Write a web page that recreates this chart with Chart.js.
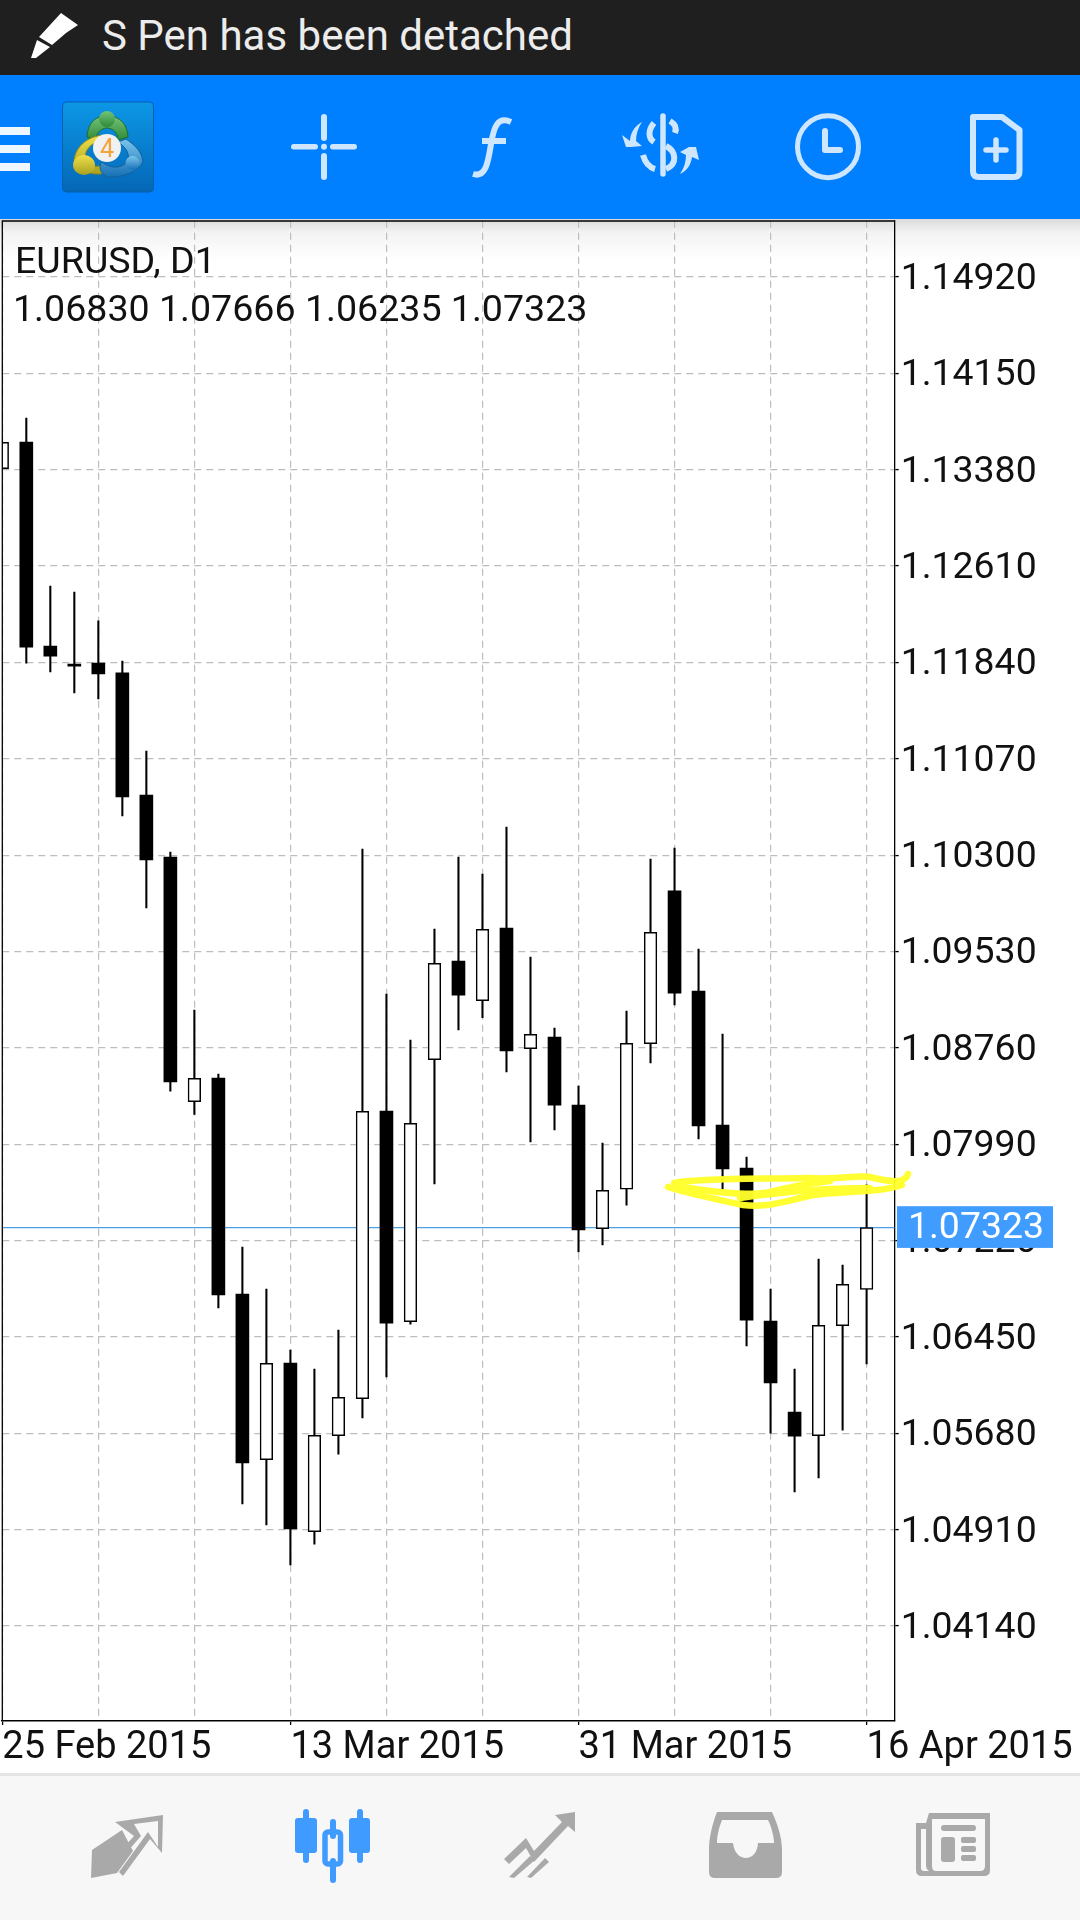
<!DOCTYPE html>
<html>
<head>
<meta charset="utf-8">
<script src="https://cdn.jsdelivr.net/npm/chart.js@4"></script>
<style>
html,body{margin:0;padding:0;background:#fff;width:1080px;height:1920px;overflow:hidden;font-family:Roboto,sans-serif}
#status{position:absolute;left:0;top:0;width:1080px;height:75px;background:#1f1f1f}
#status span{position:absolute;left:102px;top:13px;font-size:42px;line-height:46px;color:#ececec;white-space:nowrap}
#toolbar{position:absolute;left:0;top:75px;width:1080px;height:144px;background:#007fff}
#shade{position:absolute;left:0;top:219px;width:1080px;height:40px;background:linear-gradient(#dcdcdc,#f3f3f3 35%,#fff)}
#c{position:absolute;left:0;top:0;z-index:2}
.head{position:absolute;z-index:3;color:#111;white-space:nowrap;font-size:37.6px;line-height:44px}
#bottom{position:absolute;left:0;top:1773px;width:1080px;height:147px;background:#f7f7f7;border-top:3px solid #e4e4e4;box-sizing:border-box}
svg.ov{position:absolute;left:0;top:0;z-index:4;pointer-events:none}
</style>
</head>
<body>
<div id="status"><span>S Pen has been detached</span></div>
<div id="toolbar"></div>
<div id="shade"></div>
<div id="bottom"></div>
<canvas id="c" width="1080" height="1920" style="width:1080px;height:1920px"></canvas>
<div class="head" style="left:15px;top:238px">EURUSD, D1</div>
<div class="head" style="left:13px;top:286px">1.06830 1.07666 1.06235 1.07323</div>

<svg class="ov" width="1080" height="1920" viewBox="0 0 1080 1920">
  <defs>
    <linearGradient id="lg" x1="0" y1="0" x2="0" y2="1"><stop offset="0" stop-color="#0c97e6"/><stop offset="1" stop-color="#0467b6"/></linearGradient>
    <linearGradient id="gg" x1="0" y1="0" x2="0" y2="1"><stop offset="0" stop-color="#74c47a"/><stop offset="1" stop-color="#2f8a37"/></linearGradient>
    <linearGradient id="yg" x1="0" y1="0" x2="0" y2="1"><stop offset="0" stop-color="#efe04a"/><stop offset="1" stop-color="#a8a020"/></linearGradient>
    <linearGradient id="bg" x1="0" y1="0" x2="0" y2="1"><stop offset="0" stop-color="#7cc6ee"/><stop offset="1" stop-color="#1670b5"/></linearGradient>
  </defs>
  <!-- status pen -->
  <g fill="#fff">
    <path d="M31 58 L37 40 L50 47 L36 58 Z"/>
    <path d="M39 37 L61 13 L78 25 L66 33 L52 45 Z"/>
  </g>
  <!-- hamburger -->
  <g fill="#eef6ff">
    <rect x="0" y="127" width="30" height="8"/><rect x="0" y="145" width="30" height="8"/><rect x="0" y="163" width="30" height="8"/>
  </g>
  <!-- logo -->
  <rect x="62.5" y="102" width="91" height="90" rx="4" fill="url(#lg)" stroke="#0a5fa8" stroke-width="1"/>
  <path d="M87 137 C88 121 97 116 107 116 C117 116 127 121 128 137 L118 140 C118 132 112 128 107 128 C102 128 96 132 96 140 Z" fill="url(#gg)" stroke="#1e6e2a" stroke-width="1"/>
  <circle cx="107" cy="119" r="8" fill="url(#gg)"/>
  <path d="M104 135 C88 136 76 146 74 160 C80 170 92 178 108 172 L100 166 C88 168 84 160 86 152 C90 144 96 142 100 142 Z" fill="url(#yg)" stroke="#8c8616" stroke-width="1"/>
  <ellipse cx="84" cy="165" rx="11" ry="10" fill="url(#yg)"/>
  <path d="M126 139 C136 146 142 152 143 162 C138 172 122 178 108 177 C100 174 98 166 102 162 C112 170 124 168 128 160 C130 152 124 146 118 142 Z" fill="url(#bg)" stroke="#11619e" stroke-width="1"/>
  <circle cx="132.500" cy="163" r="7" fill="url(#bg)"/>
  <circle cx="107" cy="148" r="14" fill="#f1f1f1"/>
  <text x="107" y="157" font-size="25" font-family="Roboto" text-anchor="middle" fill="#f4a33a">4</text>
  <!-- toolbar icons -->
  <g fill="#cfe6ff" stroke="none">
    <rect x="291" y="144" width="27" height="5.5" rx="2.7"/><rect x="330" y="144" width="27" height="5.5" rx="2.7"/>
    <rect x="321" y="114" width="6" height="27" rx="3"/><rect x="321" y="153" width="6" height="27" rx="3"/>
    <circle cx="324" cy="146.7" r="3"/>
  </g>
  <g fill="none" stroke="#cfe6ff">
    <path d="M511 122 C498 116 494 126 491 144 C488 162 486 178 473 174" stroke-width="6"/>
    <path d="M482 141 H506" stroke-width="6"/>
    <path d="M663 116 V174" stroke-width="5.5" stroke-linecap="round"/>
    <path d="M654 123 C648 130 648 138 654 142 M670 121 C675 124 677 128 675 133 M666 146 C676 151 678 164 666 169 M643 155 C645 162 648 167 655 169" stroke-width="6"/>
    <ellipse cx="828" cy="146.7" rx="30.5" ry="31" stroke-width="5"/>
    <path d="M825 131 V150 H840" stroke-width="6" stroke-linecap="round" stroke-linejoin="round"/>
    <path d="M973 117 H1002 L1019.5 130 V171 Q1019.5 177 1014 177 H979 Q973 177 973 171 Z" stroke-width="6" stroke-linejoin="round"/>
    <path d="M996 140 V160 M986 150 H1006" stroke-width="5.5" stroke-linecap="round"/>
  </g>
  <g fill="#cfe6ff">
    <path d="M642 122 C634 126 630 134 630 141 L622 135 L626 147 L631 147 L642 146 L636 141 C636 134 638 128 642 122 Z"/>
    <path d="M680 174 C688 170 691 164 692 157 L699 160 L696 147 L689 147 L680 152 L686 155 C686 162 684 168 680 174 Z"/>
  </g>
  <!-- highlighter -->
  <g fill="none" stroke="#ffff2a" stroke-width="6.5" stroke-linecap="round" stroke-linejoin="round" opacity=".96">
    <path d="M674 1183 C700 1178 760 1179 807 1178 C840 1180 855 1175 870 1177 C885 1181 905 1185 908 1174"/>
    <path d="M668 1187 C690 1194 720 1200 743 1205 C770 1208 790 1200 813 1195 C840 1191 880 1193 902 1185"/>
    <path d="M676 1186 C700 1190 750 1197 770 1192 C790 1187 810 1183 830 1181"/>
    <path d="M740 1198 C780 1192 830 1188 870 1188"/>
  </g>
  <!-- bottom icons -->
  <g fill="#a9a9a9">
    <path d="M91 1878 L92 1850 L122 1830 L133 1851 L117 1873 Z"/>
    <path d="M115 1822 L163 1815 L162 1853 L150 1839 L123 1876 L119 1872 L148 1832 L158 1847 L158 1821 L134 1824 L141 1836 L128 1851 L125 1846 L134 1836 Z"/>
    <path d="M504 1859 L526 1838 L534 1851 L562 1822 L555 1815 L575 1812 L575 1832 L568 1826 L534 1862 L526 1848 L509 1864 Z"/>
    <path d="M509 1877 L530 1856 L535 1860 L514 1878 Z M527 1877 L545 1858 L549 1862 L531 1878 Z"/>
    <path d="M717 1812 H772 C778 1825 782 1838 782 1850 V1872 Q782 1878 776 1878 H715 Q709 1878 709 1872 V1850 C709 1838 712 1825 717 1812 Z M722 1820 C718 1830 717 1838 717 1843 H733 C735 1863 757 1863 758 1843 H774 C774 1838 772 1828 768 1820 Z" fill-rule="evenodd"/>
    <path d="M929 1813 H990 V1870 Q990 1876 984 1876 H922 Q916 1876 916 1870 V1823 H926 Z M926 1829 H921 V1868 Q921 1871 924 1871 H929 Q926 1869 926 1866 Z M932 1819 V1866 Q932 1871 936 1871 H980 Q985 1871 985 1866 V1819 Z" fill-rule="evenodd"/>
    <rect x="941" y="1825" width="35" height="6" rx="3"/><rect x="941" y="1837" width="14" height="25" rx="3"/>
    <rect x="961" y="1837" width="15" height="6" rx="2"/><rect x="961" y="1846" width="15" height="6" rx="2"/><rect x="961" y="1855" width="15" height="6" rx="2"/>
  </g>
  <g fill="#3f9bff" stroke="#3f9bff">
    <rect x="295" y="1818" width="22" height="35" rx="3" stroke="none"/><rect x="303" y="1809" width="6" height="54" rx="3" stroke="none"/>
    <rect x="349" y="1818" width="21" height="35" rx="3" stroke="none"/><rect x="357" y="1809" width="6" height="54" rx="3" stroke="none"/>
    <rect x="330" y="1819" width="6" height="20" rx="3" stroke="none"/><rect x="330" y="1858" width="6" height="25" rx="3" stroke="none"/>
    <rect x="325" y="1832" width="15.5" height="32" rx="3" fill="none" stroke-width="5.5"/>
  </g>
</svg>

<script>
// EURUSD D1 candles, one entry per trading day, left to right
const opens  = [1.13388,1.13601,1.11971,1.11827,1.11835,1.11756,1.10781,1.10285,1.08330,1.08519,1.06793,1.05469,1.06242,1.04894,1.05661,1.05956,1.08255,1.06572,1.08665,1.09454,1.09137,1.09718,1.08753,1.08847,1.08303,1.07315,1.07630,1.08793,1.10014,1.09214,1.08144,1.07800,1.06577,1.05850,1.05661,1.06540,1.06830];
const highs  = [1.13599,1.13793,1.12451,1.12403,1.12173,1.11851,1.11132,1.10325,1.09063,1.08551,1.07169,1.06833,1.06346,1.06194,1.06505,1.10349,1.09190,1.08823,1.09710,1.10285,1.10149,1.10525,1.09486,1.08919,1.08455,1.08000,1.09055,1.10269,1.10357,1.09550,1.08871,1.07888,1.06833,1.06194,1.07073,1.07025,1.07666];
const lows   = [1.13388,1.11835,1.11764,1.11596,1.11548,1.10613,1.09878,1.08415,1.08229,1.06681,1.05115,1.04947,1.04628,1.04795,1.05514,1.05802,1.06130,1.06553,1.07672,1.08903,1.09001,1.08567,1.08008,1.08104,1.07129,1.07185,1.07504,1.08639,1.09103,1.08032,1.07632,1.06378,1.05682,1.05211,1.05323,1.05706,1.06235];
const closes = [1.13599,1.11963,1.11891,1.11811,1.11748,1.10765,1.10261,1.08487,1.08517,1.06785,1.05443,1.06239,1.04915,1.05664,1.05968,1.08253,1.06561,1.08157,1.09436,1.09182,1.09707,1.08735,1.08868,1.08303,1.07305,1.07622,1.08796,1.09683,1.09198,1.08136,1.07792,1.06585,1.06082,1.05658,1.06543,1.06871,1.07323];

const yTicks = [1.14920,1.14150,1.13380,1.12610,1.11840,1.11070,1.10300,1.09530,1.08760,1.07990,1.07220,1.06450,1.05680,1.04910,1.04140];
const xGrid = [0,4,8,12,16,20,24,28,32,36];
const xLabelIndex = [0,12,24,36];
const xLabels = ['25 Feb 2015','13 Mar 2015','31 Mar 2015','16 Apr 2015'];
const yMin = 1.03381, yMax = 1.15370, xMax = 37.17;
const lastClose = 1.07323;

const idx = opens.map((_, i) => i);
const upIdx = idx.filter(i => closes[i] >= opens[i]);
const downIdx = idx.filter(i => closes[i] < opens[i]);
const body = i => ({x: i, y: [opens[i], closes[i]]});

const GRID = '#bdbdbd';

const frame = {
  id: 'frame',
  afterDatasetsDraw(c) {
    const a = c.chartArea, g = c.ctx;
    g.save();
    g.strokeStyle = '#000'; g.lineWidth = 1.3;
    g.beginPath();
    g.moveTo(a.left, a.bottom); g.lineTo(a.left, a.top + .3); g.lineTo(a.right, a.top + .3);
    g.stroke();
    g.restore();
  },
  afterDraw(c) {
    const g = c.ctx, y = c.scales.y.getPixelForValue(lastClose);
    g.save();
    g.fillStyle = '#409cff';
    g.fillRect(897, y - 21.5, 156, 41.7);
    g.fillStyle = '#fff';
    g.font = '37.4px Roboto';
    g.textBaseline = 'middle';
    g.fillText(lastClose.toFixed(5), 908, y + 1);
    g.restore();
  }
};

new Chart(document.getElementById('c'), {
  type: 'bar',
  plugins: [frame],
  data: {
    datasets: [
      {label: 'down', order: 0, data: downIdx.map(body), backgroundColor: '#000', borderWidth: 0, barThickness: 13, grouped: false},
      {label: 'up', order: 0, data: upIdx.map(body), backgroundColor: '#fff', borderColor: '#000', borderWidth: 1.5, borderSkipped: false, barThickness: 12.6, grouped: false},
      {label: 'wick', order: 1, data: idx.map(i => ({x: i, y: [lows[i], highs[i]]})), backgroundColor: '#000', borderWidth: 0, barThickness: 1.4, grouped: false},
      {label: 'last', order: 2, type: 'line', data: [{x: 0, y: lastClose}, {x: xMax, y: lastClose}], borderColor: '#4b9fe6', borderWidth: 1.2, pointRadius: 0}
    ]
  },
  options: {
    responsive: false,
    devicePixelRatio: 1,
    animation: false,
    events: [],
    layout: {padding: {left: 2.3, top: 220.7, right: 0, bottom: 0}},
    plugins: {legend: {display: false}, tooltip: {enabled: false}},
    scales: {
      x: {
        type: 'linear', min: 0, max: xMax, offset: false,
        afterBuildTicks(s) { s.ticks = xGrid.map(v => ({value: v})); },
        afterFit(s) { s.height = 199; },
        grid: {
          offset: false,
          color: GRID, lineWidth: 1.2, drawTicks: true, tickLength: 4,
          tickColor: c => xLabelIndex.includes(c.tick && c.tick.value) ? '#000' : 'rgba(0,0,0,0)',
          tickBorderDash: [], tickWidth: 1.3
        },
        border: {color: '#000', width: 1.6, dash: [7, 5]},
        ticks: {
          autoSkip: false, maxRotation: 0, minRotation: 0, align: 'start', padding: 1, color: '#111',
          font: {family: 'Roboto', size: 38},
          callback: v => { const k = xLabelIndex.indexOf(v); return k >= 0 ? xLabels[k] : ''; }
        }
      },
      y: {
        type: 'linear', position: 'right', min: yMin, max: yMax,
        afterBuildTicks(s) { s.ticks = yTicks.map(v => ({value: v})); },
        afterFit(s) { s.width = 185.3; },
        grid: {color: GRID, lineWidth: 1.2, tickLength: 4, tickColor: '#000', tickBorderDash: [], tickWidth: 1.3},
        border: {color: '#000', width: 1.3, dash: [7, 5]},
        ticks: {padding: 2, labelOffset: 2.5, color: '#111', font: {family: 'Roboto', size: 37.4}, callback: v => v.toFixed(5)}
      }
    }
  }
});
</script>
</body>
</html>
